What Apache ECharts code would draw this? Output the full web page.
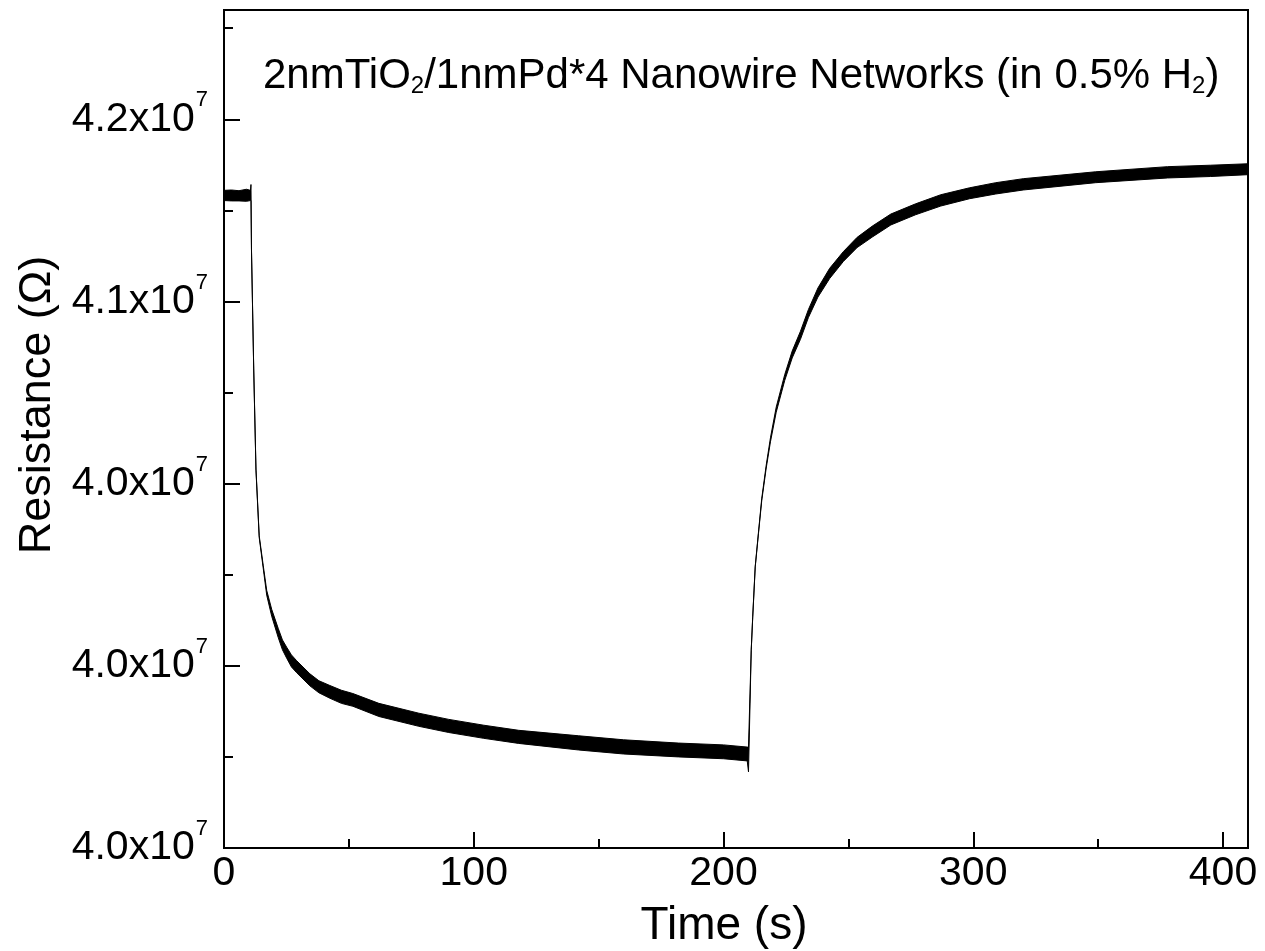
<!DOCTYPE html>
<html>
<head>
<meta charset="utf-8">
<script src="https://cdn.jsdelivr.net/npm/echarts@6.0.0/dist/echarts.min.js"></script>
<style>
  html, body { margin: 0; padding: 0; background: #fff; }
  #chart { width: 1265px; height: 951px; }
</style>
</head>
<body>
<div id="chart"></div>
<script>
// ---- data ----
// time (s)
const timeS = [0, 3, 6, 9, 10.6, 10.8, 11.0, 11.9, 12.8, 14.1, 15.7, 17.1, 19.1, 21.7, 23.4, 25.1, 27, 29.1, 34.4, 38, 42.4, 47, 51.6, 62, 78, 90, 104, 118, 142, 160, 182, 200, 209.5, 210, 211.1, 211.7, 212.7, 214, 215.3, 217.1, 218.8, 221.1, 224.5, 227.5, 230.8, 234, 237.8, 242.5, 248, 253.5, 259.6, 267, 276.9, 287, 298.5, 309, 320, 349, 377.8, 395, 410];
// lower edge of the noisy trace (Ohm)
const resLow = [41277000, 41276000, 41276000, 41275000, 41277000, 41277000, 41141000, 40812000, 40537000, 40352000, 40268000, 40194000, 40136000, 40078000, 40044000, 40021000, 39997000, 39981000, 39945000, 39926000, 39911000, 39897000, 39889000, 39861000, 39834000, 39817000, 39801000, 39787000, 39769000, 39758000, 39750000, 39745000, 39739000, 39709000, 40043000, 40133000, 40271000, 40363000, 40453000, 40543000, 40615000, 40696000, 40783000, 40845000, 40896000, 40956000, 41012000, 41063000, 41110000, 41148000, 41177000, 41210000, 41238000, 41262000, 41282000, 41295000, 41306000, 41326000, 41339000, 41343000, 41348000];
// upper edge of the noisy trace (Ohm)
const resHigh = [41305000, 41306000, 41304000, 41308000, 41305000, 41321000, 41144000, 40815000, 40540000, 40357000, 40276000, 40207000, 40155000, 40103000, 40071000, 40051000, 40030000, 40014000, 39978000, 39959000, 39946000, 39933000, 39924000, 39897000, 39870000, 39853000, 39837000, 39823000, 39808000, 39797000, 39788000, 39783000, 39777000, 39777000, 40045000, 40136000, 40273000, 40367000, 40459000, 40551000, 40626000, 40710000, 40799000, 40864000, 40918000, 40978000, 41037000, 41091000, 41137000, 41176000, 41207000, 41240000, 41268000, 41293000, 41312000, 41326000, 41337000, 41356000, 41370000, 41374000, 41378000];

// tick labels as printed on the original
const xTickValues = [0, 100, 200, 300, 400];
const xTickLabels = ['0', '100', '200', '300', '400'];
const yTickValues = [39500000, 40000000, 40500000, 41000000, 41500000];
const yTickMantissas = ['4.0', '4.0', '4.0', '4.1', '4.2'];
const yTickExponent = '7';

const FONT = "'Liberation Sans', Arial, Helvetica, sans-serif";

const chart = echarts.init(document.getElementById('chart'), null, { renderer: 'canvas' });

function renderBand(params, api) {
  const pts = [];
  for (let i = 0; i < timeS.length; i++) pts.push(api.coord([timeS[i], resHigh[i]]));
  for (let i = timeS.length - 1; i >= 0; i--) pts.push(api.coord([timeS[i], resLow[i]]));
  return {
    type: 'polygon',
    shape: { points: pts },
    style: { fill: '#000', stroke: '#000', lineWidth: 1, lineJoin: 'round' }
  };
}

const option = {
  animation: false,
  backgroundColor: '#fff',
  title: {
    text: '{a|2nmTiO}{s|2}{a|/1nmPd*4 Nanowire Networks (in 0.5% H}{s|2}{a|)}',
    left: 263,
    top: 54,
    padding: 0,
    textStyle: {
      fontWeight: 'normal',
      rich: {
        a: { fontSize: 42, fontWeight: 'normal', fontFamily: FONT, color: '#000', lineHeight: 44 },
        s: { fontSize: 24, fontWeight: 'normal', fontFamily: FONT, color: '#000', lineHeight: 24, verticalAlign: 'bottom', padding: [36, 0, 0, 0] }
      }
    }
  },
  grid: {
    left: 224, right: 17, top: 10, bottom: 103,
    show: true, borderColor: '#000', borderWidth: 2,
    outerBoundsMode: 'none'
  },
  xAxis: [
    {
      type: 'value', min: 0, max: 410, interval: 100, position: 'bottom',
      axisLine: { show: true, lineStyle: { color: '#000', width: 2 } },
      axisTick: { show: true, inside: true, length: 16, lineStyle: { color: '#000', width: 2 } },
      splitLine: { show: false },
      axisLabel: {
        color: '#000', fontSize: 41, fontFamily: FONT, margin: 5,
        formatter: function (v) { const i = xTickValues.indexOf(v); return i >= 0 ? xTickLabels[i] : ''; }
      },
      name: 'Time (s)', nameLocation: 'middle', nameGap: 55,
      nameTextStyle: { color: '#000', fontSize: 46, fontFamily: FONT, padding: [0, 24, 0, 0] }
    },
    {
      type: 'value', min: 0, max: 410, interval: 50, position: 'bottom',
      axisLine: { show: false },
      axisTick: { show: true, inside: true, length: 9, lineStyle: { color: '#000', width: 2 } },
      axisLabel: { show: false },
      splitLine: { show: false }
    }
  ],
  yAxis: [
    {
      type: 'value', min: 39500000, max: 41800000, interval: 500000, position: 'left',
      axisLine: { show: true, lineStyle: { color: '#000', width: 2 } },
      axisTick: { show: true, inside: true, length: 16, lineStyle: { color: '#000', width: 2 } },
      splitLine: { show: false },
      axisLabel: {
        margin: 16,
        formatter: function (v) {
          const i = yTickValues.indexOf(v);
          return i >= 0 ? '{m|' + yTickMantissas[i] + 'x10}{e|' + yTickExponent + '}' : '';
        },
        rich: {
          m: { fontSize: 41, fontFamily: FONT, color: '#000', lineHeight: 60 },
          e: { fontSize: 22, fontFamily: FONT, color: '#000', lineHeight: 22, verticalAlign: 'top', padding: [0, 0, 0, 1] }
        }
      },
      name: 'Resistance (\u03A9)', nameLocation: 'middle', nameRotate: 90, nameGap: 164,
      nameTextStyle: { color: '#000', fontSize: 45, fontFamily: FONT, padding: [0, 0, 0, 48] }
    },
    {
      type: 'value', min: 39500000, max: 41800000, interval: 250000, position: 'left',
      axisLine: { show: false },
      axisTick: { show: true, inside: true, length: 9, lineStyle: { color: '#000', width: 2 } },
      axisLabel: { show: false },
      splitLine: { show: false }
    }
  ],
  series: [
    {
      type: 'custom', name: 'Resistance', xAxisIndex: 0, yAxisIndex: 0,
      coordinateSystem: 'cartesian2d', silent: true,
      data: [[timeS[0], resLow[0]]],
      renderItem: renderBand
    }
  ]
};
chart.setOption(option);
</script>
</body>
</html>
